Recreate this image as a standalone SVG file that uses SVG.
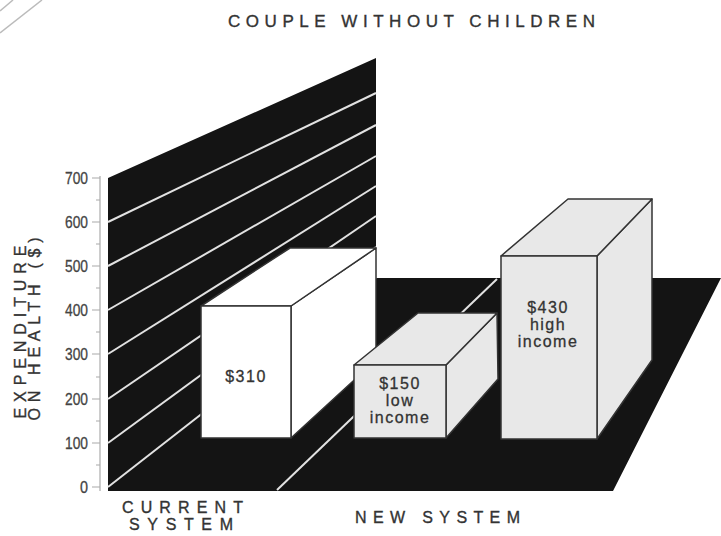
<svg xmlns="http://www.w3.org/2000/svg" width="721" height="536" viewBox="0 0 721 536">
<style>
.lbl{font-family:"Liberation Sans",Arial,sans-serif;fill:#333;stroke:#333;stroke-width:0.35;}
.cap{font-size:16px;}
.big{font-size:17px;}
.tick{font-family:"Liberation Sans",Arial,sans-serif;font-size:17px;fill:#444;stroke:#444;stroke-width:0.3;text-anchor:end;}
.bartxt{font-family:"Liberation Sans",Arial,sans-serif;font-size:16px;fill:#333;text-anchor:middle;letter-spacing:1.5px;stroke:#333;stroke-width:0.3;}
.wl{stroke:#e2e2e2;stroke-width:2;fill:none;}
.ax{stroke:#aaa;stroke-width:1.2;fill:none;}
.face{stroke:#333;stroke-width:1.5;stroke-linejoin:round;}
.white{fill:#fff;}
.grey{fill:#e8e8e8;}
</style>
<rect width="721" height="536" fill="#fff"/>
<g id="corner">
<line x1="0" y1="11" x2="13" y2="0" stroke="#bbb" stroke-width="1.5"/>
<line x1="0" y1="33" x2="42" y2="0" stroke="#bbb" stroke-width="1.5"/>
</g>
<text id="title" class="lbl big" x="228" y="27" textLength="367" lengthAdjust="spacing">COUPLE WITHOUT CHILDREN</text>
<g id="plane">
<polygon points="108,178 376,58 376,278 721,278 613,491 108,491" fill="#141414"/>
<g id="wall-lines">
<line class="wl" x1="108" y1="487" x2="376" y2="278"/>
<line class="wl" x1="108" y1="443" x2="376" y2="247"/>
<line class="wl" x1="108" y1="399" x2="376" y2="216"/>
<line class="wl" x1="108" y1="354" x2="376" y2="186"/>
<line class="wl" x1="108" y1="310" x2="376" y2="156"/>
<line class="wl" x1="108" y1="266" x2="376" y2="125"/>
<line class="wl" x1="108" y1="222" x2="376" y2="93"/>
</g>
<line class="wl" x1="277" y1="490" x2="497" y2="279"/>
</g>
<g id="axis">
<line class="ax" x1="100" y1="176" x2="100" y2="491"/>
<path class="ax" d="M92 178H100M92 222H100M92 266H100M92 310H100M92 354H100M92 399H100M92 443H100M92 487H100M96 200H100M96 244H100M96 288H100M96 332H100M96 377H100M96 421H100M96 465H100"/>
<text class="tick" x="88" y="184" textLength="23" lengthAdjust="spacingAndGlyphs">700</text>
<text class="tick" x="88" y="228" textLength="23" lengthAdjust="spacingAndGlyphs">600</text>
<text class="tick" x="88" y="272" textLength="23" lengthAdjust="spacingAndGlyphs">500</text>
<text class="tick" x="88" y="316" textLength="23" lengthAdjust="spacingAndGlyphs">400</text>
<text class="tick" x="88" y="360" textLength="23" lengthAdjust="spacingAndGlyphs">300</text>
<text class="tick" x="88" y="405" textLength="23" lengthAdjust="spacingAndGlyphs">200</text>
<text class="tick" x="88" y="449" textLength="23" lengthAdjust="spacingAndGlyphs">100</text>
<text class="tick" x="88" y="493" textLength="8" lengthAdjust="spacingAndGlyphs">0</text>
</g>
<g id="ylabel">
<text class="lbl cap" transform="translate(26,332) rotate(-90)" text-anchor="middle" textLength="173" lengthAdjust="spacing">EXPENDITURE</text>
<text class="lbl cap" transform="translate(40,329) rotate(-90)" text-anchor="middle" textLength="183" lengthAdjust="spacing">ON HEALTH ($)</text>
</g>
<g id="bar-current">
<polygon class="face white" points="291,306 376,248 376,360 291,438"/>
<polygon class="face white" points="201,306 290,248 376,248 291,306"/>
<rect class="face white" x="201" y="306" width="90" height="132"/>
<text class="bartxt" x="246" y="382">$310</text>
</g>
<g id="bar-low">
<polygon class="face grey" points="446,365 497,313 498,379 446,438"/>
<polygon class="face grey" points="354,365 418,313 497,313 446,365"/>
<rect class="face grey" x="354" y="365" width="92" height="73"/>
<text class="bartxt" x="400" y="389">$150</text>
<text class="bartxt" x="400" y="406">low</text>
<text class="bartxt" x="400" y="423">income</text>
</g>
<g id="bar-high">
<polygon class="face grey" points="597,256 652,199 652,360 597,439"/>
<polygon class="face grey" points="501,256 568,199 652,199 597,256"/>
<rect class="face grey" x="501" y="256" width="96" height="183"/>
<text class="bartxt" x="548" y="313">$430</text>
<text class="bartxt" x="548" y="330">high</text>
<text class="bartxt" x="548" y="347">income</text>
</g>
<g id="xlabels">
<text class="lbl cap" x="122" y="513" textLength="121" lengthAdjust="spacing">CURRENT</text>
<text class="lbl cap" x="129" y="530" textLength="104" lengthAdjust="spacing">SYSTEM</text>
<text class="lbl cap" x="355" y="523" textLength="165" lengthAdjust="spacing">NEW SYSTEM</text>
</g>
</svg>
